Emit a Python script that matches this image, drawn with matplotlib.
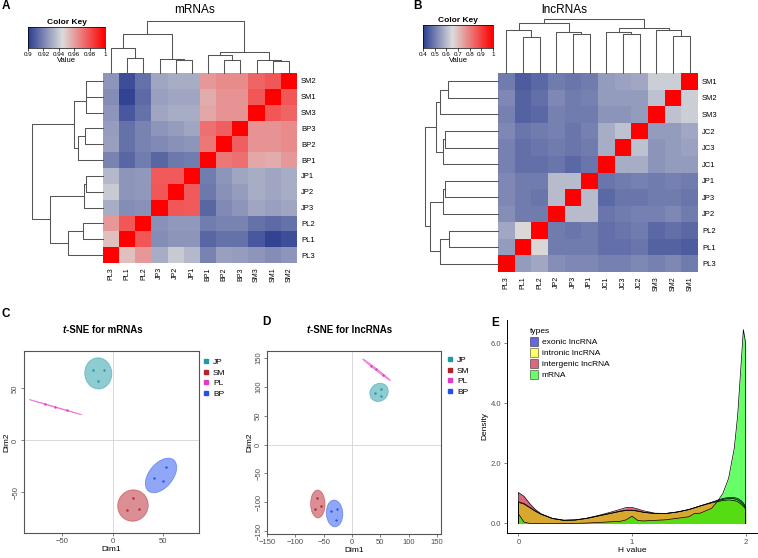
import numpy as np
import matplotlib
matplotlib.use("Agg")
import matplotlib.pyplot as plt
from matplotlib.colors import LinearSegmentedColormap
from matplotlib.patches import Ellipse, Patch
from matplotlib.lines import Line2D

plt.rcParams['font.family'] = ['Liberation Sans', 'DejaVu Sans']

# ---------------- data ----------------
# A: mRNA sample correlations (order = heatmap columns, left to right)
mrna_names = ['PL3', 'PL1', 'PL2', 'JP3', 'JP2', 'JP1', 'BP1', 'BP2', 'BP3', 'SM3', 'SM1', 'SM2']
mrna_corr = [
    [1.000, 0.952, 0.962, 0.932, 0.940, 0.935, 0.920, 0.928, 0.927, 0.925, 0.923, 0.925],
    [0.952, 1.000, 0.978, 0.923, 0.925, 0.925, 0.912, 0.915, 0.915, 0.908, 0.902, 0.905],
    [0.962, 0.978, 1.000, 0.924, 0.926, 0.926, 0.918, 0.920, 0.920, 0.915, 0.913, 0.915],
    [0.932, 0.923, 0.924, 1.000, 0.978, 0.977, 0.912, 0.922, 0.925, 0.930, 0.928, 0.930],
    [0.940, 0.925, 0.926, 0.978, 1.000, 0.977, 0.917, 0.924, 0.927, 0.932, 0.930, 0.932],
    [0.935, 0.925, 0.926, 0.977, 0.977, 1.000, 0.918, 0.925, 0.930, 0.932, 0.930, 0.932],
    [0.920, 0.912, 0.918, 0.912, 0.917, 0.918, 1.000, 0.970, 0.972, 0.958, 0.957, 0.962],
    [0.928, 0.915, 0.920, 0.922, 0.924, 0.925, 0.970, 1.000, 0.976, 0.963, 0.963, 0.965],
    [0.927, 0.915, 0.920, 0.925, 0.927, 0.930, 0.972, 0.976, 1.000, 0.963, 0.963, 0.965],
    [0.925, 0.908, 0.915, 0.930, 0.932, 0.932, 0.958, 0.963, 0.963, 1.000, 0.978, 0.975],
    [0.923, 0.902, 0.913, 0.928, 0.930, 0.930, 0.957, 0.963, 0.963, 0.978, 1.000, 0.978],
    [0.925, 0.905, 0.915, 0.930, 0.932, 0.932, 0.962, 0.965, 0.965, 0.975, 0.978, 1.000],
]
# merges (left, right, height) on leaf indices above, scipy style node numbering
mrna_tree = [(1, 2, 0.285), (0, 12, 0.487), (4, 5, 0.24), (3, 14, 0.266), (13, 15, 0.74),
             (7, 8, 0.253), (6, 17, 0.348), (10, 11, 0.234), (9, 19, 0.24), (18, 20, 0.41),
             (16, 21, 1.0)]

# B: lncRNA sample correlations
lnc_names = ['PL3', 'PL1', 'PL2', 'JP2', 'JP3', 'JP1', 'JC1', 'JC3', 'JC2', 'SM3', 'SM2', 'SM1']
lnc_corr = [
    [1.00, 0.55, 0.57, 0.53, 0.52, 0.52, 0.51, 0.51, 0.52, 0.51, 0.52, 0.50],
    [0.55, 1.00, 0.66, 0.50, 0.50, 0.50, 0.48, 0.48, 0.49, 0.46, 0.46, 0.45],
    [0.57, 0.66, 1.00, 0.50, 0.49, 0.50, 0.48, 0.49, 0.50, 0.47, 0.48, 0.47],
    [0.53, 0.50, 0.50, 1.00, 0.60, 0.60, 0.49, 0.50, 0.51, 0.51, 0.52, 0.50],
    [0.52, 0.50, 0.49, 0.60, 1.00, 0.60, 0.47, 0.49, 0.49, 0.50, 0.50, 0.49],
    [0.52, 0.50, 0.50, 0.60, 0.60, 1.00, 0.49, 0.50, 0.51, 0.50, 0.51, 0.50],
    [0.51, 0.48, 0.48, 0.49, 0.47, 0.49, 1.00, 0.58, 0.58, 0.54, 0.55, 0.55],
    [0.51, 0.48, 0.49, 0.50, 0.49, 0.50, 0.58, 1.00, 0.61, 0.54, 0.55, 0.56],
    [0.52, 0.49, 0.50, 0.51, 0.49, 0.51, 0.58, 0.61, 1.00, 0.55, 0.55, 0.57],
    [0.51, 0.46, 0.47, 0.51, 0.50, 0.50, 0.54, 0.54, 0.55, 1.00, 0.61, 0.63],
    [0.52, 0.46, 0.48, 0.52, 0.50, 0.51, 0.55, 0.55, 0.55, 0.61, 1.00, 0.63],
    [0.50, 0.45, 0.47, 0.50, 0.49, 0.50, 0.55, 0.56, 0.57, 0.63, 0.63, 1.00],
]
lnc_tree = [(1, 2, 0.667), (0, 12, 0.80), (4, 5, 0.72), (3, 14, 0.76), (13, 15, 0.926),
            (7, 8, 0.72), (6, 17, 0.76), (10, 11, 0.69), (9, 19, 0.80), (18, 20, 0.846),
            (16, 21, 1.0)]

# C / D: t-SNE coordinates
groups = ['JP', 'SM', 'PL', 'BP']
mrna_dim1 = {'JP': [-19.7, -8.7, -14.0], 'SM': [20.0, 14.3, 26.7],
             'PL': [-67.0, -57.3, -45.7], 'BP': [41.0, 53.0, 50.7]}
mrna_dim2 = {'JP': [68.0, 68.0, 57.4], 'SM': [-55.5, -66.6, -65.7],
             'PL': [35.0, 32.0, 29.0], 'BP': [-36.0, -26.0, -39.0]}
lnc_dim1 = {'JP': [40.0, 52.0, 51.0], 'SM': [-62.0, -64.5, -54.5],
            'PL': [34.0, 42.0, 54.0], 'BP': [-37.5, -26.0, -29.0]}
lnc_dim2 = {'JP': [90.0, 97.0, 84.0], 'SM': [-92.0, -111.0, -106.0],
            'PL': [136.0, 131.5, 121.0], 'BP': [-116.0, -112.0, -130.0]}

# E: densities of H value
h_value = [0.0, 0.05, 0.1, 0.15, 0.2, 0.3, 0.4, 0.5, 0.6, 0.7, 0.8, 0.9, 0.95, 1.0, 1.05, 1.1,
           1.2, 1.3, 1.4, 1.5, 1.55, 1.6, 1.65, 1.7, 1.75, 1.8, 1.85, 1.9, 1.93, 1.96, 1.98, 2.0]
dens_exonic = [0.70, 0.64, 0.52, 0.40, 0.30, 0.16, 0.10, 0.11, 0.16, 0.24, 0.32, 0.40, 0.43, 0.43,
               0.41, 0.37, 0.33, 0.33, 0.38, 0.46, 0.52, 0.58, 0.64, 0.70, 0.77, 0.83, 0.86, 0.86,
               0.83, 0.76, 0.68, 0.56]
dens_intronic = [0.72, 0.66, 0.54, 0.41, 0.31, 0.17, 0.11, 0.12, 0.17, 0.25, 0.33, 0.41, 0.44, 0.44,
                 0.41, 0.37, 0.33, 0.33, 0.38, 0.46, 0.52, 0.58, 0.64, 0.70, 0.75, 0.80, 0.83, 0.82,
                 0.78, 0.70, 0.62, 0.52]
dens_intergenic = [1.03, 0.90, 0.66, 0.46, 0.32, 0.16, 0.10, 0.11, 0.17, 0.26, 0.36, 0.47, 0.53,
                   0.53, 0.48, 0.42, 0.34, 0.33, 0.38, 0.46, 0.52, 0.58, 0.63, 0.68, 0.72, 0.76,
                   0.78, 0.76, 0.72, 0.64, 0.57, 0.48]
dens_mrna = [0.32, 0.04, 0.0, 0.0, 0.0, 0.0, 0.0, 0.0, 0.01, 0.03, 0.05, 0.07, 0.12, 0.24, 0.10,
             0.08, 0.10, 0.12, 0.17, 0.22, 0.33, 0.34, 0.42, 0.50, 0.72, 1.0, 1.5, 2.5, 3.6, 5.3,
             6.45, 6.0]

# ---------------- figure ----------------
W, H = 758, 558
fig = plt.figure(figsize=(W / 100, H / 100), dpi=100)


def box(x0, y0, x1, y1):
    return fig.add_axes([x0 / W, 1 - y1 / H, (x1 - x0) / W, (y1 - y0) / H])


def ftext(x, y, s, **kw):
    return fig.text(x / W, 1 - y / H, s, **kw)


def draw_dendro(ax, tree, n, side):
    pos = [float(i) for i in range(n)]
    hgt = [0.0] * n
    for a, b, h in tree:
        xs = [pos[a], pos[a], pos[b], pos[b]]
        ys = [hgt[a], h, h, hgt[b]]
        if side == 'top':
            ax.plot(xs, ys, color='#555555', lw=0.75, clip_on=False)
        else:
            ax.plot(ys, xs, color='#555555', lw=0.75, clip_on=False)
        pos.append((pos[a] + pos[b]) / 2)
        hgt.append(h)
    if side == 'top':
        ax.set_xlim(-0.5, n - 0.5)
        ax.set_ylim(0, 1)
    else:
        ax.set_ylim(-0.5, n - 0.5)
        ax.set_xlim(1, 0)
    ax.axis('off')


def heat_panel(mat, names, tree, vmin, vmax, mid, ticks, ticklabels,
               hm, top_y, left_x, key, title, title_x, letter, letter_x):
    cmap = LinearSegmentedColormap.from_list(
        'key', [(0, '#2B3D91'), (mid, '#DCDCDC'), (1, '#FF0000')])
    n = len(names)
    x0, y0, x1, y1 = hm
    ax = box(x0, y0, x1, y1)
    ax.imshow(np.array(mat), origin='lower', cmap=cmap, vmin=vmin, vmax=vmax,
              aspect='auto', interpolation='nearest')
    ax.set_xticks(range(n))
    ax.set_xticklabels(names, rotation=90, fontsize=5)
    ax.set_yticks(range(n))
    ax.set_yticklabels(names, fontsize=5.5)
    ax.yaxis.tick_right()
    ax.tick_params(length=0, pad=3)
    for s in ax.spines.values():
        s.set_visible(False)

    draw_dendro(box(x0, top_y, x1, y0), tree, n, 'top')
    draw_dendro(box(left_x, y0, x0, y1), tree, n, 'left')

    kx0, ky0, kx1, ky1 = key
    kax = box(kx0, ky0, kx1, ky1)
    grad = np.linspace(vmin, vmax, 256)[None, :]
    kax.imshow(grad, extent=(vmin, vmax, 0, 1), aspect='auto', cmap=cmap,
               vmin=vmin, vmax=vmax)
    kax.set_yticks([])
    kax.set_xticks(ticks)
    kax.set_xticklabels(ticklabels, fontsize=4.5)
    kax.tick_params(length=2, width=0.5, pad=1)
    kax.set_xlabel('Value', fontsize=5.5, labelpad=0)
    kax.set_title('Color Key', fontsize=6, weight='bold', pad=2)
    for s in kax.spines.values():
        s.set_linewidth(0.5)

    ftext(title_x, 10, title, fontsize=8.5, ha='center', va='center')
    ftext(letter_x, 6, letter, fontsize=8.5, weight='bold', ha='left', va='center')


heat_panel(mrna_corr, mrna_names, mrna_tree, 0.9, 1.0, 0.45,
           [0.9, 0.92, 0.94, 0.96, 0.98, 1.0], ['0.9', '0.92', '0.94', '0.96', '0.98', '1'],
           (103, 73, 297, 263), 20.7, 32, (28, 27, 105, 48), 'mRNAs', 195, 'A', 2)
heat_panel(lnc_corr, lnc_names, lnc_tree, 0.4, 1.0, 0.42,
           [0.4, 0.5, 0.6, 0.7, 0.8, 0.9, 1.0], ['0.4', '0.5', '0.6', '0.7', '0.8', '0.9', '1'],
           (498, 73, 698, 272), 19.3, 425, (423, 25, 493, 48), 'lncRNAs', 564, 'B', 413)

# ---------------- t-SNE panels ----------------
grp_colors = {'JP': '#1E9AA6', 'SM': '#B8202A', 'PL': '#E33BC8', 'BP': '#2250F0'}


def tsne_panel(rect, dim1, dim2, xlim, ylim, xticks, yticks, title, title_x, letter, letter_xy,
               legend_xy):
    ax = box(*rect)
    ax.axhline(0, color='#d9d9d9', lw=0.7, zorder=0)
    ax.axvline(0, color='#d9d9d9', lw=0.7, zorder=0)
    for g in groups:
        pts = np.column_stack([dim1[g], dim2[g]])
        mu = pts.mean(axis=0)
        vals, vecs = np.linalg.eigh(np.cov(pts.T))
        r = np.sqrt(5.991)
        ang = np.degrees(np.arctan2(vecs[1, 1], vecs[0, 1]))
        ax.add_patch(Ellipse(mu, 2 * r * np.sqrt(vals[1]), 2 * r * np.sqrt(max(vals[0], 0)),
                             angle=ang, facecolor=grp_colors[g], alpha=0.5,
                             edgecolor=grp_colors[g], lw=0.6))
        ax.scatter(dim1[g], dim2[g], s=3, color=grp_colors[g], zorder=3, linewidths=0)
    ax.set_xlim(*xlim)
    ax.set_ylim(*ylim)
    ax.set_xticks(xticks)
    ax.set_yticks(yticks)
    ax.set_xticklabels([str(t).replace('-', '\u2212') for t in xticks])
    ax.set_yticklabels([str(t).replace('-', '\u2212') for t in yticks], rotation=90, va='center')
    ax.tick_params(labelsize=5.5, colors='#4d4d4d', length=2, width=0.5, pad=1.5)
    ax.set_xlabel('Dim1', fontsize=6, labelpad=1)
    ax.set_ylabel('Dim2', fontsize=6, labelpad=1)
    for s in ax.spines.values():
        s.set_color('#555555')
        s.set_linewidth(0.8)
    handles = [Line2D([], [], marker='s', linestyle='', color=grp_colors[g], markersize=3.5)
               for g in groups]
    ax.legend(handles, groups, loc='upper left', frameon=False, fontsize=6,
              bbox_to_anchor=(legend_xy[0] / W, 1 - legend_xy[1] / H),
              bbox_transform=fig.transFigure, handlelength=0.8, handletextpad=0.4,
              labelspacing=0.35, borderpad=0, borderaxespad=0)
    t1 = ftext(title_x, 330, 't', fontsize=7, weight='bold', style='italic', va='center')
    ax.annotate('-SNE for ' + title, xy=(1, 0), xycoords=t1, va='bottom', ha='left',
                fontsize=7, weight='bold', annotation_clip=False)
    ftext(letter_xy[0], letter_xy[1], letter, fontsize=8.5, weight='bold', ha='left', va='center')


tsne_panel((24, 351, 199, 533), mrna_dim1, mrna_dim2, (-88, 86), (-89, 86),
           [-50, 0, 50], [-50, 0, 50], 'mRNAs', 63, 'C', (2, 314), (203, 358))
tsne_panel((267, 351, 441, 534), lnc_dim1, lnc_dim2, (-150, 157), (-155, 162),
           [-150, -100, -50, 0, 50, 100, 150], [-150, -100, -50, 0, 50, 100, 150],
           'lncRNAs', 307, 'D', (262, 322), (447, 356))

# ---------------- density panel ----------------
ax = box(507, 320, 757, 533)
type_labels = ['exonic lncRNA', 'intronic lncRNA', 'intergenic lncRNA', 'mRNA']
type_colors = {'exonic lncRNA': '#0000CD', 'intronic lncRNA': '#FFFF00',
               'intergenic lncRNA': '#C8002B', 'mRNA': '#00FF00'}
type_dens = {'exonic lncRNA': dens_exonic, 'intronic lncRNA': dens_intronic,
             'intergenic lncRNA': dens_intergenic, 'mRNA': dens_mrna}
for t in ['exonic lncRNA', 'intergenic lncRNA', 'intronic lncRNA', 'mRNA']:
    ax.fill_between(h_value, 0, type_dens[t], color=type_colors[t], alpha=0.6, lw=0)
    xs = [h_value[0]] + list(h_value) + [h_value[-1]]
    ys = [0] + list(type_dens[t]) + [0]
    ax.plot(xs, ys, color='black', lw=0.5)
ax.set_xlim(-0.1, 2.1)
ax.set_ylim(-0.32, 6.77)
ax.set_xticks([0, 1, 2])
ax.set_yticks([0, 2, 4, 6])
ax.set_yticklabels(['0.0', '2.0', '4.0', '6.0'])
ax.tick_params(labelsize=5.5, colors='#4d4d4d', length=2.5, width=0.5, pad=1.5)
ax.spines['top'].set_visible(False)
ax.spines['right'].set_visible(False)
for s in ['left', 'bottom']:
    ax.spines[s].set_linewidth(0.7)
ax.set_xlabel('H value', fontsize=6, labelpad=1)
ax.set_ylabel('Density', fontsize=6, labelpad=2)
handles = [Patch(facecolor=type_colors[t], alpha=0.6, edgecolor='black', lw=0.5)
           for t in type_labels]
leg = ax.legend(handles, type_labels, title='types', loc='upper left', frameon=False,
                fontsize=6, title_fontsize=6, bbox_to_anchor=(530 / W, 1 - 328 / H),
                bbox_transform=fig.transFigure, handlelength=1.0, handleheight=1.3,
                handletextpad=0.4, labelspacing=0.2, borderpad=0, borderaxespad=0)
leg._legend_box.align = 'left'
ftext(491, 323, 'E', fontsize=8.5, weight='bold', ha='left', va='center')

fig.savefig('out.png', dpi=100)
